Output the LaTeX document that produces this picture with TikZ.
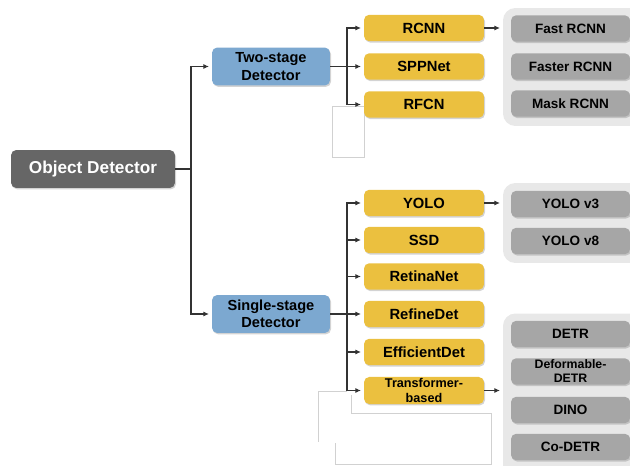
\documentclass[tikz,border=0pt]{standalone}
\usepackage{fontspec}
\setmainfont{Liberation Sans}
\usepackage{xcolor}
\usetikzlibrary{arrows.meta, positioning, shadows}

\definecolor{rootgray}{HTML}{666666}
\definecolor{detblue}{HTML}{7CA8D0}
\definecolor{algoyellow}{HTML}{EBC03F}
\definecolor{vargray}{HTML}{A6A6A6}
\definecolor{panelgray}{HTML}{E8E8E8}

\tikzset{
    boxbase/.style={rounded corners=3pt, inner sep=1pt, align=center,
        drop shadow={shadow xshift=0.6pt, shadow yshift=-0.8pt, opacity=0.35}},
    rootbox/.style={boxbase, fill=rootgray, text=white, minimum width=3.28cm, minimum height=0.76cm,
        font=\bfseries\fontsize{9.8}{11}\selectfont},
    detbox/.style={boxbase, fill=detblue, minimum width=2.36cm, minimum height=0.76cm,
        font=\bfseries\fontsize{8.3}{10}\selectfont},
    algobox/.style={boxbase, fill=algoyellow, minimum width=2.4cm, minimum height=0.53cm,
        font=\bfseries\fontsize{8.4}{9}\selectfont},
    varbox/.style={boxbase, fill=vargray, minimum width=2.38cm, minimum height=0.53cm,
        font=\bfseries\fontsize{7.7}{8}\selectfont},
    panel/.style={fill=panelgray, rounded corners=7pt},
    conn/.style={draw=black!80, line width=0.6pt},
    arr/.style={conn, -{Latex[length=3.2pt,width=2.8pt]}, shorten >=1.5pt},
    ghost/.style={draw=black!18, line width=0.4pt}
}

\begin{document}
\begin{tikzpicture}[x=0.02cm, y=-0.02cm]
    \useasboundingbox (0,0) rectangle (630,466);

    % Riquadri chiari a destra
    \node[panel, minimum width=2.8cm, minimum height=2.36cm] (p1) at (573,67) {};
    \node[panel, minimum width=2.8cm, minimum height=1.6cm] (p2) at (573,223) {};
    \node[panel, minimum width=2.8cm, minimum height=3.3cm] (p3) at (573,396) {};

    % Linee sottili grigie
    \draw[ghost] (332,106) rectangle (364,157);
    \draw[ghost] (347,391) -- (318,391) -- (318,442);
    \draw[ghost] (351,395) -- (351,413) -- (491,413) -- (491,464) -- (335,464) -- (335,443);

    % Radice e rami principali
    \node[rootbox] (od) at (93,169) {Object Detector};
    \node[detbox] (two) at (271,66.5) {Two-stage\\Detector};
    \node[detbox] (single) at (271,314) {Single-stage\\Detector};

    % Metodi two-stage
    \node[algobox] (rcnn) at (424,28) {RCNN};
    \node[algobox] (spp) at (424,66.5) {SPPNet};
    \node[algobox] (rfcn) at (424,104.5) {RFCN};

    % Metodi single-stage
    \node[algobox] (yolo) at (424,203) {YOLO};
    \node[algobox] (ssd) at (424,240) {SSD};
    \node[algobox] (retina) at (424,276.5) {RetinaNet};
    \node[algobox] (refine) at (424,314) {RefineDet};
    \node[algobox] (effdet) at (424,352) {EfficientDet};
    \node[algobox, font=\bfseries\fontsize{7.2}{8.1}\selectfont] (trans) at (424,390.5) {Transformer-\\based};

    % Varianti
    \node[varbox] (fast) at (570.5,28.5) {Fast RCNN};
    \node[varbox] (faster) at (570.5,66.5) {Faster RCNN};
    \node[varbox] (mask) at (570.5,103.5) {Mask RCNN};
    \node[varbox] (yolo3) at (570.5,204) {YOLO v3};
    \node[varbox] (yolo8) at (570.5,241) {YOLO v8};
    \node[varbox] (detr) at (570.5,334) {DETR};
    \node[varbox, font=\bfseries\fontsize{7}{8}\selectfont] (ddetr) at (570.5,371.5) {Deformable-\\DETR};
    \node[varbox] (dino) at (570.5,410) {DINO};
    \node[varbox] (codetr) at (570.5,447) {Co-DETR};

    % Connettori
    \coordinate (j1) at (191,169);
    \coordinate (j2) at (347,66.5);
    \coordinate (j3) at (347,314);
    \draw[conn] (od) -- (j1);
    \draw[arr] (j1) |- (two);
    \draw[arr] (j1) |- (single);
    \draw[conn] (two) -- (j2);
    \foreach \n in {rcnn, spp, rfcn} {
        \draw[arr] (j2) |- (\n);
    }
    \draw[conn] (single) -- (j3);
    \foreach \n in {yolo, ssd, retina, refine, effdet, trans} {
        \draw[arr] (j3) |- (\n);
    }
    \draw[arr] (rcnn) -- (rcnn -| p1.west);
    \draw[arr] (yolo) -- (yolo -| p2.west);
    \draw[arr] (trans) -- (trans -| p3.west);

\end{tikzpicture}
\end{document}
